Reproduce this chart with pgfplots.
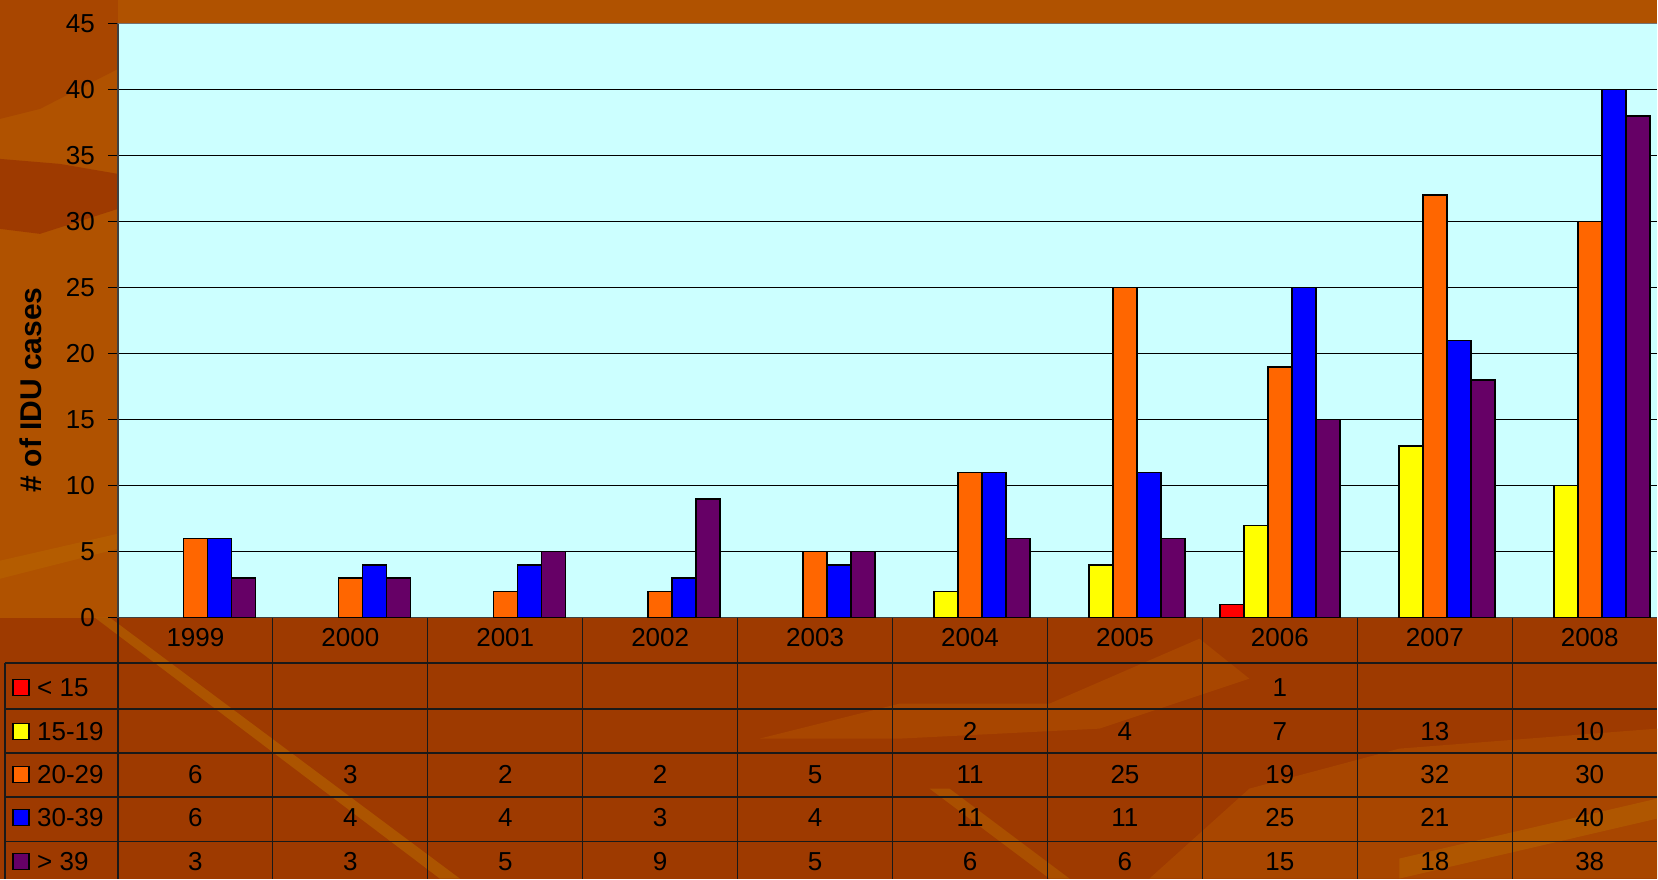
\documentclass[border=0pt]{standalone}
\usepackage{pgfplots}
\pgfplotsset{compat=1.18}
\usepackage{fontspec}
\setmainfont{Liberation Sans}
\definecolor{bgTop}{HTML}{B05200}
\definecolor{bgDark}{HTML}{9E3A00}
\definecolor{bgLight}{HTML}{B96A00}
\definecolor{bgMid}{HTML}{A84600}
\definecolor{plotbg}{HTML}{CCFFFF}
\definecolor{cA}{HTML}{FF0000}
\definecolor{cB}{HTML}{FFFF00}
\definecolor{cC}{HTML}{FF6600}
\definecolor{cD}{HTML}{0000FF}
\definecolor{cE}{HTML}{660066}
\begin{document}
\begin{tikzpicture}[x=1pt,y=1pt]
% background (decorative)
\fill[bgTop] (0,0) rectangle (1658,879);
\fill[bgMid] (0,879) -- (0,760) -- (40,770) -- (118,810) -- (118,879) -- cycle;
\fill[bgDark] (0,720) -- (60,715) -- (118,705) -- (118,670) -- (40,645) -- (0,650) -- cycle;
\fill[bgDark] (0,0) rectangle (1658,261);
\fill[bgMid] (1150,0) -- (1658,0) -- (1658,150) -- (1400,130) -- (1250,90) -- cycle;
\fill[bgMid] (760,140) -- (900,175) -- (1050,175) -- (1200,240) -- (1250,200) -- (1100,150) -- (900,140) -- cycle;
\fill[bgLight, opacity=0.55] (95,261) -- (110,261) -- (460,0) -- (440,0) -- cycle;
\fill[bgLight, opacity=0.45] (0,300) -- (118,330) -- (118,345) -- (0,318) -- cycle;
\fill[bgLight, opacity=0.45] (1050,0) -- (1070,0) -- (950,90) -- (930,90) -- cycle;
\fill[bgLight, opacity=0.45] (1400,0) -- (1658,60) -- (1658,80) -- (1400,20) -- cycle;
\begin{axis}[
  at={(118pt,261pt)}, anchor=south west,
  scale only axis, width=1540pt, height=594.5pt,
  xmin=-0.5, xmax=9.435, ymin=0, ymax=45,
  axis background/.style={fill=plotbg},
  axis lines*=left,
  axis line style={-, draw=black!75, line width=1.5pt},
  xtick=\empty,
  ytick={0,5,...,45},
  ymajorgrids, grid style={black, line width=1pt},
  tick align=outside, major tick length=10pt,
  ytick style={black, line width=1pt},
  yticklabel style={font=\fontsize{26}{30}\selectfont, anchor=east, inner sep=0pt, xshift=-13pt, /pgf/number format/assume math mode=true},
  ybar=0pt, bar width=24pt,
  clip=false,
]
\addplot[ybar, fill=cA, draw=black, line width=1.5pt] coordinates {(7,1)};
\addplot[ybar, fill=cB, draw=black, line width=1.5pt] coordinates {(5,2) (6,4) (7,7) (8,13) (9,10)};
\addplot[ybar, fill=cC, draw=black, line width=1.5pt] coordinates {(0,6) (1,3) (2,2) (3,2) (4,5) (5,11) (6,25) (7,19) (8,32) (9,30)};
\addplot[ybar, fill=cD, draw=black, line width=1.5pt] coordinates {(0,6) (1,4) (2,4) (3,3) (4,4) (5,11) (6,11) (7,25) (8,21) (9,40)};
\addplot[ybar, fill=cE, draw=black, line width=1.5pt] coordinates {(0,3) (1,3) (2,5) (3,9) (4,5) (5,6) (6,6) (7,15) (8,18) (9,38)};
\end{axis}
% top edge of plot area
\draw[black!55, line width=1pt] (118,855.5) -- (1658,855.5);
% y label
\node[rotate=90, font=\fontsize{30}{35}\selectfont\bfseries] at (31,489) {\# of IDU cases};
% data table grid
\begin{scope}[line width=1.2pt, draw=black!90]
\foreach \yy in {215.7,169.7,125.7,81.7,37.3} \draw (5,\yy) -- (1658,\yy);
\draw (5,215.7) -- (5,0);
\draw (118,261) -- (118,0);
\foreach \k in {1,...,9} \draw ({118+155*\k},261) -- ({118+155*\k},0);
\end{scope}
% table text
\begin{scope}[font=\fontsize{26}{30}\selectfont]
\foreach \v [count=\i from 0] in {1999,2000,2001,2002,2003,2004,2005,2006,2007,2008}
  \node at ({195.5+155*\i},241) {\v};
\foreach \v [count=\i from 0] in {,,,,,,,1,,}
  \node at ({195.5+155*\i},191) {\v};
\foreach \v [count=\i from 0] in {,,,,,2,4,7,13,10}
  \node at ({195.5+155*\i},147) {\v};
\foreach \v [count=\i from 0] in {6,3,2,2,5,11,25,19,32,30}
  \node at ({195.5+155*\i},104) {\v};
\foreach \v [count=\i from 0] in {6,4,4,3,4,11,11,25,21,40}
  \node at ({195.5+155*\i},61) {\v};
\foreach \v [count=\i from 0] in {3,3,5,9,5,6,6,15,18,38}
  \node at ({195.5+155*\i},17) {\v};
% legend keys
\foreach \c/\t/\yy in {cA/{< 15}/191, cB/{15-19}/147, cC/{20-29}/104, cD/{30-39}/61, cE/{> 39}/17} {
  \filldraw[fill=\c, draw=black, line width=1.5pt] (13,\yy-8) rectangle (29,\yy+8);
  \node[anchor=west, inner sep=0pt] at (37,\yy) {\t};
}
\end{scope}
\end{tikzpicture}
\end{document}
